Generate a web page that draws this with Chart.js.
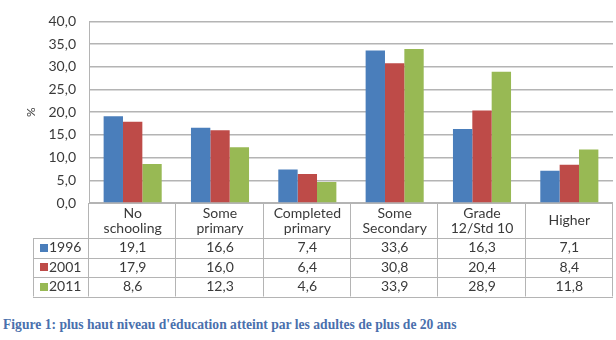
<!DOCTYPE html>
<html>
<head>
<meta charset="utf-8">
<script src="https://cdn.jsdelivr.net/npm/chart.js@4.4.1/dist/chart.umd.min.js"></script>
<style>
  body { margin: 0; background: #fff; }
  .wrap { position: relative; width: 616px; height: 340px; }
  .chart-box { position: absolute; left: 0; top: 0; width: 616px; height: 310px; }
  .caption {
    position: absolute; left: 3px; top: 317px;
    font-family: "Liberation Serif", "Times New Roman", serif;
    font-weight: bold; font-size: 13.6px; color: #4a70ad;
  }
</style>
</head>
<body>
<div class="wrap">
  <div class="chart-box"><canvas id="edu-chart"></canvas></div>
  <div class="caption">Figure 1: plus haut niveau d'éducation atteint par les adultes de plus de 20 ans</div>
</div>
<script>
const categories = [['No', 'schooling'], ['Some', 'primary'], ['Completed', 'primary'], ['Some', 'Secondary'], ['Grade', '12/Std 10'], ['Higher']];
const years = ['1996', '2001', '2011'];
const values1996 = [19.1, 16.6, 7.4, 33.6, 16.3, 7.1];
const values2001 = [17.9, 16.0, 6.4, 30.8, 20.4, 8.4];
const values2011 = [8.6, 12.3, 4.6, 33.9, 28.9, 11.8];
const colors = ['#4a7ebb', '#be4b48', '#98b954'];

const fmt = v => v.toFixed(1).replace('.', ',');
const textColor = '#3a3a3a';
const lineColor = '#b4b4b4';
const fontFamily = 'Lato, "Open Sans", sans-serif';

// data table drawn under the plot, using the x scale positions
const dataTable = {
  id: 'dataTable',
  afterDraw(chart) {
    const ctx = chart.ctx;
    const x = chart.scales.x;
    const area = chart.chartArea;
    const colW = x.width / categories.length;
    const top = area.bottom;
    const headBottom = top + 35;
    const rowH = 19.5;
    const bottom = headBottom + rowH * years.length;
    const leftCol = 33;

    ctx.save();
    ctx.strokeStyle = lineColor;
    ctx.lineWidth = 1;
    ctx.beginPath();
    // horizontal lines
    ctx.moveTo(x.left, top + 0.5); ctx.lineTo(x.right, top + 0.5);
    for (let r = 0; r <= years.length; r++) {
      const y = Math.round(headBottom + r * rowH) + 0.5;
      ctx.moveTo(leftCol, y); ctx.lineTo(x.right, y);
    }
    // vertical lines
    for (let i = 0; i <= categories.length; i++) {
      const px = Math.round(x.left + i * colW) - 0.5;
      ctx.moveTo(px, top); ctx.lineTo(px, bottom);
    }
    ctx.moveTo(leftCol + 0.5, headBottom); ctx.lineTo(leftCol + 0.5, bottom);
    ctx.stroke();

    ctx.fillStyle = textColor;
    ctx.font = '14px ' + fontFamily;
    ctx.textAlign = 'center';
    ctx.textBaseline = 'middle';
    categories.forEach((lines, i) => {
      const cx = x.left + (i + 0.5) * colW;
      if (lines.length === 1) {
        ctx.fillText(lines[0], cx, (top + headBottom) / 2);
      } else {
        ctx.fillText(lines[0], cx, top + 10);
        ctx.fillText(lines[1], cx, top + 25);
      }
    });

    chart.data.datasets.forEach((ds, r) => {
      const cy = headBottom + (r + 0.5) * rowH;
      ctx.fillStyle = ds.backgroundColor;
      ctx.fillRect(40, Math.round(cy - 4), 8, 8);
      ctx.fillStyle = textColor;
      ctx.textAlign = 'left';
      ctx.fillText(ds.label, 49, cy);
      ctx.textAlign = 'center';
      ds.data.forEach((v, i) => {
        ctx.fillText(fmt(v), x.left + (i + 0.5) * colW, cy);
      });
    });
    ctx.restore();
  }
};

new Chart(document.getElementById('edu-chart'), {
  type: 'bar',
  data: {
    labels: categories,
    datasets: [
      { label: years[0], data: values1996, backgroundColor: colors[0] },
      { label: years[1], data: values2001, backgroundColor: colors[1] },
      { label: years[2], data: values2011, backgroundColor: colors[2] }
    ]
  },
  options: {
    responsive: true,
    maintainAspectRatio: false,
    animation: false,
    layout: { padding: { top: 8, right: 3, bottom: 107, left: 0 } },
    datasets: { bar: { categoryPercentage: 0.665, barPercentage: 1 } },
    plugins: {
      legend: { display: false },
      tooltip: { enabled: false }
    },
    scales: {
      x: { display: false },
      y: {
        min: 0,
        max: 40,
        afterFit: s => { s.width = 89; },
        ticks: {
          stepSize: 5,
          padding: 13,
          color: textColor,
          font: { family: fontFamily, size: 14 },
          callback: v => fmt(v)
        },
        grid: { color: lineColor, lineWidth: 1.5, drawTicks: false },
        border: { color: lineColor },
        title: {
          display: true,
          text: '%',
          color: textColor,
          font: { family: fontFamily, size: 12 },
          padding: { top: 24, bottom: 0 }
        }
      }
    }
  },
  plugins: [dataTable]
});
</script>
</body>
</html>
